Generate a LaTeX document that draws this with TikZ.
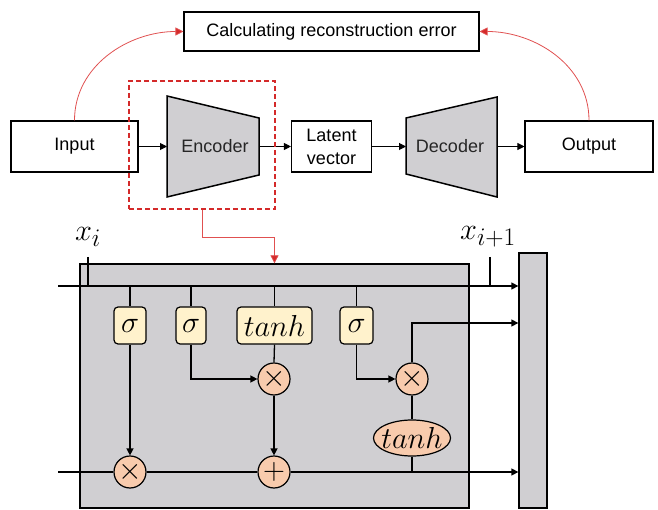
\documentclass[tikz,border=0pt]{standalone}
\usepackage{graphicx}
\usepackage{fontspec}
\setmainfont{Liberation Sans}
\usetikzlibrary{arrows.meta,shapes.geometric}
\definecolor{cellgray}{HTML}{D0CFD2}
\definecolor{gateyel}{HTML}{FFF2CC}
\definecolor{oppeach}{HTML}{F8CBAD}
\definecolor{myred}{HTML}{D42A2A}
\definecolor{curvered}{HTML}{E05050}
\newcommand{\gmath}[1]{\scalebox{1.22}{$#1$}}
\begin{document}
\begin{tikzpicture}[x=1pt,y=-1pt,
  txt/.style={font=\fontsize{18}{23}\selectfont},
  box/.style={draw, line width=1.1pt, inner sep=0pt, txt, align=center},
  trap/.style={draw, line width=1.5pt, fill=cellgray, line join=miter},
  arr/.style={line width=1pt, -{Triangle[length=7pt,width=7pt]}},
  ln/.style={line width=1.3pt},
  la/.style={line width=1.3pt, -{Triangle[length=7pt,width=7pt]}},
  gate/.style={draw, line width=1.2pt, fill=gateyel, rounded corners=4pt, minimum height=37pt, inner sep=0pt, font=\Huge},
  op/.style={draw, line width=1.2pt, fill=oppeach, circle, minimum size=32pt, inner sep=0pt, font=\Huge},
  mathlbl/.style={font=\Huge, inner sep=0pt}
]
\useasboundingbox (0,0) rectangle (658,510);

% ---------- top autoencoder ----------
\node[box, minimum width=295pt, minimum height=39pt] (err) at (331.5,31.5) {Calculating reconstruction error};
\node[box, minimum width=127pt, minimum height=51pt] (in) at (74.5,146.5) {Input};
\node[box, minimum width=80pt, minimum height=51pt] (lat) at (331.5,146.5) {Latent\\vector};
\node[box, minimum width=128pt, minimum height=51pt] (out) at (589,146.5) {Output};

\draw[trap] (167,96) -- (259,118) -- (259,175) -- (167,197) -- cycle;
\draw[trap] (406,118) -- (497,97) -- (497,197) -- (406,174) -- cycle;
\node[txt, text=black!85] (enc) at (215,146) {Encoder};
\node[txt, text=black!85] (dec) at (450,146) {Decoder};
\coordinate (encL) at (167,146.5);
\coordinate (encR) at (259,146.5);
\coordinate (decL) at (406,146.5);
\coordinate (decR) at (497,146.5);

\draw[arr] (in.east) -- (encL);
\draw[arr] (encR) -- (lat.west);
\draw[arr] (lat.east) -- (decL);
\draw[arr] (decR) -- (out.west);

\draw[curvered, line width=0.8pt, -{Triangle[length=8pt,width=8pt,fill=myred]}] (in.north) to[out=90, in=180] (err.west);
\draw[curvered, line width=0.8pt, -{Triangle[length=8pt,width=8pt,fill=myred]}] (out.north) to[out=90, in=0] (err.east);

\node[draw=myred, dashed, dash pattern=on 5pt off 3pt, line width=1.2pt, minimum width=146pt, minimum height=128pt, inner sep=0pt] (dbox) at (202,145) {};

% ---------- LSTM ----------
\node[draw, line width=1.3pt, fill=cellgray, minimum width=389pt, minimum height=244pt, inner sep=0pt] (cell) at (274.5,386) {};
\node[draw, line width=1.3pt, fill=cellgray, minimum width=28pt, minimum height=255pt, inner sep=0pt] (bar) at (533,380.5) {};

\draw[curvered, line width=0.8pt, -{Triangle[length=8pt,width=8pt,fill=myred]}] (dbox.south) -- ++(0,28) -| (cell.north);

\coordinate (hL) at (58,286);
\coordinate (cL) at (58,472);
\coordinate (xit) at (88,257);
\coordinate (xot) at (490,257);

\node[gate, minimum width=32pt] (s1) at (130,325.5) {\gmath{\sigma}};
\node[gate, minimum width=30pt] (s2) at (191,325.5) {\gmath{\sigma}};
\node[gate, minimum width=75pt] (tb) at (274.5,325.5) {\gmath{tanh}};
\node[gate, minimum width=33pt] (s3) at (356.5,325.5) {\gmath{\sigma}};

\node[op] (m1) at (274,379) {\gmath{\times}};
\node[op] (m2) at (412,379) {\gmath{\times}};
\node[op] (mb) at (130,472) {\gmath{\times}};
\node[op] (pl) at (274,472) {\gmath{+}};
\node[draw, line width=1.2pt, fill=oppeach, ellipse, minimum width=77pt, minimum height=36pt, inner sep=0pt, font=\Huge] (te) at (412,438) {\makebox[0pt]{\gmath{tanh}}};

% top line
\draw[la] (hL) -- (bar.west |- hL);
\draw[ln] (xit) -- (xit |- hL);
\draw[ln] (xot) -- (xot |- hL);
\node[mathlbl] (xi) at (88,237) {\gmath{x_i}};
\node[mathlbl] (xo) at (488,237) {\gmath{x_{i+1}}};

% gate inputs
\draw[ln] (s1 |- hL) -- (s1.north);
\draw[ln] (s2 |- hL) -- (s2.north);
\draw[ln] (tb |- hL) -- (tb.north);
\draw[ln] (s3 |- hL) -- (s3.north);

% bottom line
\draw[ln] (cL) -- (mb.west);
\draw[ln] (mb.east) -- (pl.west);
\draw[la] (pl.east) -- (bar.west |- pl);

% internal connections
\draw[la] (s1.south) -- (mb.north);
\draw[la] (s2.south) |- (m1.west);
\draw[ln] (tb.south) -- (m1.north);
\draw[la] (m1.south) -- (pl.north);
\draw[la] (s3.south) |- (m2.west);
\draw[ln] (m2.south) -- (te.north);
\draw[ln] (te.south) -- (te |- pl);
\coordinate (mid) at (412,323);
\draw[la] (m2.north) -- (mid) -- (bar.west |- mid);
\end{tikzpicture}
\end{document}
